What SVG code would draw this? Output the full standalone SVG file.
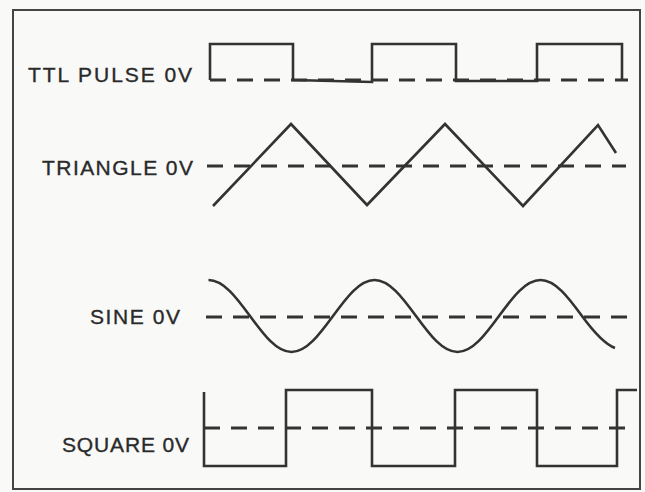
<svg xmlns="http://www.w3.org/2000/svg" width="645" height="492" viewBox="0 0 645 492">
  <style>
    .wave { fill: none; stroke: #333; stroke-width: 2.6; stroke-linejoin: miter; stroke-linecap: butt; }
    .zero { fill: none; stroke: #333; stroke-width: 3; stroke-dasharray: 16 11; }
    .lbl { font-family: "Liberation Sans", Arial, sans-serif; font-size: 21px; fill: #2a2a2a; stroke: #2a2a2a; stroke-width: 0.35; }
    .frame { fill: none; stroke: #444; stroke-width: 2; }
  </style>
  <rect x="0" y="0" width="645" height="492" fill="#f9f9f8"/>
  <rect class="frame" x="13" y="10" width="627" height="479"/>

  <g id="ttl-pulse">
    <text class="lbl" x="28" y="82" textLength="164" lengthAdjust="spacing">TTL PULSE 0V</text>
    <path class="wave" d="M210,80 V44 H293 V80 L372,82 V44 H456 V81 H537 V44 H622 V81"/>
  </g>

  <g id="triangle">
    <text class="lbl" x="42" y="175" textLength="151" lengthAdjust="spacing">TRIANGLE 0V</text>
    <polyline class="wave" points="213,206 291,124 367,205 445,124 523,206 598,125 616,153"/>
  </g>

  <g id="sine">
    <text class="lbl" x="90" y="324" textLength="90" lengthAdjust="spacing">SINE 0V</text>
    <path class="wave" d="M208.5,280 C223.52,280 236.47,297.56 250,316 C263.53,334.44 276.48,352 291.5,352 C306.52,352 319.47,334.44 333,316 C346.53,297.56 359.48,280 374.5,280 C389.52,280 402.47,297.56 416,316 C429.53,334.44 442.48,352 457.5,352 C472.52,352 485.47,334.44 499,316 C512.53,297.56 525.48,280 540.5,280 C555.52,280 568.47,297.56 582,316 C593,331 604,344 615,348"/>
  </g>

  <g id="square">
    <text class="lbl" x="62" y="452" textLength="127" lengthAdjust="spacing">SQUARE 0V</text>
    <path class="wave" d="M204,392 V466 H286 V390 H372 V466 H455 V390 H537 V466 H617 V390 H637"/>
  </g>

  <g id="connectors">
    <line class="zero" x1="210" y1="80" x2="628" y2="80"/>
    <line class="zero" x1="207" y1="166" x2="626" y2="166"/>
    <line class="zero" x1="206" y1="317" x2="630" y2="317"/>
    <line class="zero" x1="204" y1="428" x2="628" y2="428"/>
  </g>
</svg>
